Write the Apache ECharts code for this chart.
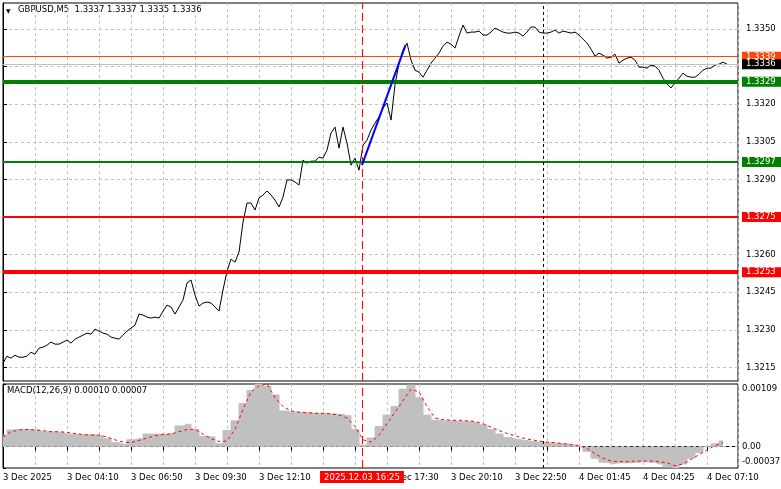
<!DOCTYPE html>
<html><head><meta charset="utf-8">
<script src="https://cdn.jsdelivr.net/npm/echarts@6/dist/echarts.min.js"></script>
<style>html,body{margin:0;padding:0;background:#fff}#c{width:781px;height:489px}</style>
</head><body><div id="c"></div>
<script>
// ---- data ----
const symbolTitle = 'GBPUSD,M5  1.3337 1.3337 1.3335 1.3336';
const priceBarStep = 2;   // bars between price samples
const closePrices = [
1.32167,1.32195,1.32187,1.32199,1.32191,1.32191,1.32195,1.32211,1.32203,1.32227,
1.32231,1.32239,1.32251,1.32243,1.32243,1.32251,1.32259,1.32247,1.32263,1.32271,
1.32279,1.32287,1.32283,1.32303,1.32295,1.32287,1.32283,1.32271,1.32267,1.32263,
1.32279,1.32295,1.32307,1.32319,1.32363,1.32359,1.32351,1.32347,1.32351,1.32347,
1.32375,1.32399,1.32391,1.32363,1.32391,1.32419,1.32487,1.32499,1.32439,1.32395,
1.32407,1.32411,1.32407,1.32391,1.32375,1.32459,1.32534,1.32582,1.32570,1.32610,
1.32730,1.32806,1.32806,1.32778,1.32826,1.32838,1.32854,1.32838,1.32818,1.32790,
1.32830,1.32898,1.32898,1.32890,1.32878,1.32977,1.32965,1.32973,1.32973,1.32989,
1.32985,1.33017,1.33085,1.33109,1.33025,1.33109,1.33045,1.32957,1.32985,1.32937,
1.33037,1.33057,1.33097,1.33125,1.33149,1.33185,1.33205,1.33137,1.33277,1.33364,
1.33416,1.33444,1.33376,1.33336,1.33328,1.33308,1.33336,1.33364,1.33384,1.33404,
1.33432,1.33448,1.33440,1.33424,1.33472,1.33516,1.33484,1.33488,1.33488,1.33492,
1.33476,1.33476,1.33488,1.33504,1.33496,1.33488,1.33484,1.33484,1.33488,1.33484,
1.33472,1.33488,1.33508,1.33508,1.33488,1.33484,1.33484,1.33488,1.33496,1.33484,
1.33492,1.33488,1.33484,1.33488,1.33476,1.33460,1.33444,1.33420,1.33392,1.33404,
1.33396,1.33384,1.33388,1.33400,1.33364,1.33376,1.33384,1.33388,1.33376,1.33348,
1.33348,1.33344,1.33356,1.33352,1.33336,1.33304,1.33281,1.33265,1.33285,1.33304,
1.33324,1.33312,1.33308,1.33308,1.33320,1.33336,1.33344,1.33344,1.33356,1.33360,
1.33368,1.33360
];
const macdBarStep = 4;
const macdMain = [
0.00020,0.00029,0.00030,0.00030,0.00029,0.00026,0.00026,0.00025,0.00022,0.00021,
0.00021,0.00021,0.00019,0.00014,0.00007,0.00004,0.00012,0.00014,0.00022,0.00022,
0.00022,0.00023,0.00036,0.00039,0.00030,0.00018,0.00017,0.00005,0.00028,0.00045,
0.00075,0.00098,0.00109,0.00105,0.00090,0.00062,0.00060,0.00060,0.00059,0.00058,
0.00058,0.00057,0.00056,0.00054,0.00030,0.00003,0.00015,0.00035,0.00055,0.00070,
0.00100,0.00107,0.00085,0.00055,0.00046,0.00045,0.00045,0.00044,0.00044,0.00042,
0.00038,0.00030,0.00022,0.00016,0.00013,0.00011,0.00009,0.00008,0.00007,0.00006,
0.00005,0.00003,0.00000,-0.00008,-0.00020,-0.00027,-0.00029,-0.00028,-0.00028,-0.00027,
-0.00026,-0.00027,-0.00030,-0.00035,-0.00037,-0.00030,-0.00020,-0.00010,0.00000,0.00005,
0.00010
];
const macdSignal = [
0.00017,0.00026,0.00029,0.00030,0.00029,0.00028,0.00026,0.00026,0.00025,0.00023,
0.00021,0.00020,0.00020,0.00017,0.00012,0.00008,0.00007,0.00011,0.00015,0.00019,
0.00021,0.00022,0.00026,0.00030,0.00030,0.00022,0.00014,0.00009,0.00010,0.00030,
0.00065,0.00095,0.00106,0.00109,0.00085,0.00070,0.00062,0.00060,0.00059,0.00058,
0.00058,0.00057,0.00055,0.00050,0.00035,0.00012,0.00008,0.00020,0.00040,0.00060,
0.00080,0.00100,0.00095,0.00070,0.00050,0.00047,0.00046,0.00046,0.00045,0.00044,
0.00040,0.00034,0.00028,0.00023,0.00019,0.00015,0.00012,0.00010,0.00008,0.00007,
0.00005,0.00004,0.00002,-0.00003,-0.00012,-0.00020,-0.00025,-0.00026,-0.00026,-0.00025,
-0.00025,-0.00025,-0.00026,-0.00028,-0.00033,-0.00030,-0.00022,-0.00014,-0.00006,0.00002,
0.00007
];
const timeLabels = ['3 Dec 2025','3 Dec 04:10','3 Dec 06:50','3 Dec 09:30','3 Dec 12:10','3 Dec 14:50',
  '3 Dec 17:30','3 Dec 20:10','3 Dec 22:50','4 Dec 01:45','4 Dec 04:25','4 Dec 07:10'];
const timeLabelEvery = 32;   // bars
const gridEvery = 16;        // bars
const visibleBars = [0, 367.5];
const priceRange = [1.32096, 1.33604];
const priceTicks = [1.3215,1.3230,1.3245,1.3260,1.3275,1.3290,1.3305,1.3320,1.3335,1.3350];
const levelValues = [1.3339, 1.3336, 1.3329, 1.3297, 1.3275, 1.3253];
const macdRange = [-0.00037, 0.00109];
const crosshairBar = 179.5;
const crosshairLabel = '2025.12.03 16:25';
const daySeparatorBar = 270;
const trendFrom = [179.5, 1.32957];
const trendTo = [201.25, 1.33436];

// ---- styles ----
const FONT = 'DejaVu Sans';
const FS = 8.5;
const levelStyle = [
  {color:'#ff4500', width:1, bg:'#ff4500'},
  {color:'#c0c0c0', width:1, bg:'#000000'},
  {color:'#008000', width:4, bg:'#008000'},
  {color:'#008000', width:2, bg:'#008000'},
  {color:'#ff0000', width:2, bg:'#ff0000'},
  {color:'#ff0000', width:4, bg:'#ff0000'}
];
const gridLine = {color:'#c0c0c0', type:[3,3], width:1};

const chart = echarts.init(document.getElementById('c'), null, {renderer:'canvas'});

const priceData = closePrices.map((p, k) => [k * priceBarStep, p]);
const histData = macdMain.map((v, k) => [k * macdBarStep, v]);
const sigData = macdSignal.map((v, k) => [k * macdBarStep, v]);

const levelMarks = levelValues.map((v, i) => ({
  yAxis: v,
  lineStyle: {color: levelStyle[i].color, width: levelStyle[i].width, type:'solid'},
  label: {show:true, position:'end', distance:4, formatter: v.toFixed(4),
    backgroundColor: levelStyle[i].bg, color:'#fff', fontFamily:FONT, fontSize:FS,
    padding:[1,8,0,4], lineHeight:9}
}));

const option = {
  animation: false,
  backgroundColor: '#fff',
  grid: [
    {left:3, top:3, width:735, height:378, show:true, borderColor:'#000', borderWidth:1, backgroundColor:'#fff',
     containLabel:false, outerBoundsMode:'none'},
    {left:3, top:384, width:735, height:84, show:true, borderColor:'#000', borderWidth:1, backgroundColor:'#fff',
     containLabel:false, outerBoundsMode:'none'}
  ],
  xAxis: [
    {type:'value', gridIndex:0, min:visibleBars[0], max:visibleBars[1], interval:gridEvery,
     axisLine:{show:false}, axisTick:{show:false}, axisLabel:{show:false},
     splitLine:{show:true, lineStyle:gridLine}},
    {type:'value', gridIndex:1, min:visibleBars[0], max:visibleBars[1], interval:gridEvery,
     axisLine:{show:true, lineStyle:{color:'#000'}},
     axisTick:{show:true, length:4, lineStyle:{color:'#000'}},
     axisLabel:{show:true, margin:5, align:'left', color:'#000', fontFamily:FONT, fontSize:FS,
       showMinLabel:true, showMaxLabel:false,
       formatter: v => (v % timeLabelEvery === 0 && timeLabels[v / timeLabelEvery]) ? timeLabels[v / timeLabelEvery] : ''},
     splitLine:{show:true, lineStyle:gridLine}}
  ],
  yAxis: [
    {type:'value', gridIndex:0, position:'right', min:priceRange[0], max:priceRange[1],
     axisLine:{show:true, lineStyle:{color:'#000'}},
     axisTick:{show:true, length:4, customValues:priceTicks, lineStyle:{color:'#000'}},
     axisLabel:{customValues:priceTicks, margin:8, color:'#000', fontFamily:FONT, fontSize:FS,
       formatter: v => v.toFixed(4)},
     splitLine:{show:true, lineStyle:gridLine}},
    {type:'value', gridIndex:1, position:'right', min:macdRange[0], max:macdRange[1],
     axisLine:{show:true, lineStyle:{color:'#000'}},
     axisTick:{show:true, length:3, customValues:[macdRange[0], 0, macdRange[1]], lineStyle:{color:'#000'}},
     axisLabel:{customValues:[macdRange[0], 0, macdRange[1]], margin:4, color:'#000', fontFamily:FONT, fontSize:FS,
       formatter: v => v === 0 ? '0.00' : (v > 0 ? '{t|' + v.toFixed(5) + '}' : '{b|' + v.toFixed(5) + '}'),
       rich:{t:{fontFamily:FONT, fontSize:FS, color:'#000', padding:[10,0,0,0]},
             b:{fontFamily:FONT, fontSize:FS, color:'#000', padding:[0,0,12,0]}}},
     splitLine:{show:false}}
  ],
  graphic: [
    {type:'text', left:6, top:8, style:{text:'▼', font:'6px ' + FONT, fill:'#000'}},
    {type:'text', left:18, top:5, style:{text:symbolTitle, font:FS + 'px ' + FONT, fill:'#000'}},
    {type:'text', left:7, top:386, style:{text:'MACD(12,26,9) ' + macdMain[macdMain.length-1].toFixed(5) + ' ' + macdSignal[macdSignal.length-1].toFixed(5), font:FS + 'px ' + FONT, fill:'#000'}}
  ],
  series: [
    {type:'line', xAxisIndex:0, yAxisIndex:0, data:priceData, showSymbol:false, symbol:'none',
     lineStyle:{color:'#000', width:1}, z:3,
     markLine:{symbol:'none', silent:true, animation:false, precision:5,
       data: levelMarks.concat([
         {xAxis: crosshairBar, lineStyle:{color:'#ff0000', width:1, type:[8,4]}, label:{show:false}},
         {xAxis: daySeparatorBar, lineStyle:{color:'#000', width:1, type:[3,3]}, label:{show:false}},
         [{coord: trendFrom, lineStyle:{color:'#0000ff', width:2, type:'solid'}, label:{show:false}}, {coord: trendTo}]
       ])}},
    {type:'line', xAxisIndex:1, yAxisIndex:1, data:histData, showSymbol:false, symbol:'none', step:'middle',
     lineStyle:{color:'#c0c0c0', width:1}, areaStyle:{color:'#c0c0c0', opacity:1, origin:0}, z:2,
     markLine:{symbol:'none', silent:true, animation:false,
       data:[
         {yAxis:0, lineStyle:{color:'#c0c0c0', width:1, type:[3,3]}, label:{show:false}},
         {xAxis: crosshairBar, lineStyle:{color:'#ff0000', width:1, type:[8,4]},
          label:{show:true, position:'start', distance:3, formatter: crosshairLabel, color:'#fff',
            backgroundColor:'#ff0000', fontFamily:FONT, fontSize:FS, padding:[2,4,1,4]}},
         {xAxis: daySeparatorBar, lineStyle:{color:'#000', width:1, type:[3,3]}, label:{show:false}}
       ]}},
    {type:'line', xAxisIndex:1, yAxisIndex:1, data:sigData, showSymbol:false, symbol:'none',
     lineStyle:{color:'#ff0000', width:1, type:[3,3]}, z:4}
  ]
};
chart.setOption(option);
</script>
</body></html>
